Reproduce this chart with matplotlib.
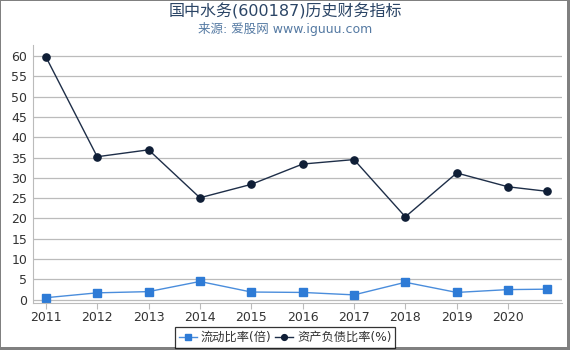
import numpy as np
import matplotlib
matplotlib.use("Agg")
import matplotlib.pyplot as plt
from matplotlib.patches import Rectangle

plt.rcParams['font.family'] = ['DejaVu Sans', 'Noto Sans CJK SC']

years = [2011, 2012, 2013, 2014, 2015, 2016, 2017, 2018, 2019, 2020, 2020.75]
tick_years = [2011, 2012, 2013, 2014, 2015, 2016, 2017, 2018, 2019, 2020]
current_ratio = [0.5, 1.7, 2.0, 4.5, 1.9, 1.8, 1.2, 4.3, 1.8, 2.5, 2.6]
debt_ratio = [59.8, 35.2, 36.9, 25.1, 28.4, 33.4, 34.5, 20.4, 31.2, 27.8, 26.7]

fig = plt.figure(figsize=(5.7, 3.5), dpi=100)
ax = fig.add_axes([33 / 570, 1 - 303 / 350, (562 - 33) / 570, (303 - 45) / 350])

ax.plot(years, current_ratio, "-s", color="#4a8ddc", mfc="#2e7bd6", mec="#2e7bd6",
        lw=1.0, ms=5.2, label="流动比率(倍)")
ax.plot(years, debt_ratio, "-o", color="#1e2e48", mfc="#0f1e36", mec="#0f1e36",
        lw=1.0, ms=5.2, label="资产负债比率(%)")

ax.set_xlim(2010.75, 2021.05)
ax.set_ylim(-0.8, 62.7)
ax.set_yticks(np.arange(0, 61, 5))
ax.set_xticks(tick_years)
ax.set_xticklabels([str(y) for y in tick_years])
ax.grid(axis="y", color="#bbbbbb", lw=0.9)
ax.set_axisbelow(True)
for s in ["top", "right"]:
    ax.spines[s].set_visible(False)
ax.spines["left"].set_color("#bbbbbb")
ax.spines["bottom"].set_color("#bbbbbb")
ax.tick_params(axis="x", colors="#333333", labelsize=9, length=4, color="#bbbbbb", pad=2)
ax.tick_params(axis="y", colors="#333333", labelsize=9, length=0, pad=4)
ax.tick_params(axis="both", labelcolor="#333333")

fig.text(0.5, 0.966, "国中水务(600187)历史财务指标", ha="center", va="center",
         fontsize=11.5, color="#2b4566")
fig.text(0.5, 0.918, "来源: 爱股网 www.iguuu.com", ha="center", va="center",
         fontsize=9, color="#557aa3")

leg = fig.legend(loc="center", bbox_to_anchor=(285 / 570, 1 - 337.5 / 350), ncol=2,
                 fontsize=8.8, frameon=True, fancybox=False, handlelength=1.5,
                 handletextpad=0.3, columnspacing=0.3, borderpad=0.3,
                 markerscale=0.8)
leg.get_frame().set_edgecolor("black")
leg.get_frame().set_linewidth(0.9)
for t in leg.get_texts():
    t.set_color("#333333")

# frame around the picture: thin on top/left, thicker on right/bottom
W, H = 570, 350
for (x, y, w, h) in [(0, H - 1, W, 1), (0, 0, 1, H), (W - 3, 0, 3, H), (0, 0, W, 3)]:
    fig.patches.append(Rectangle((x / W, y / H), w / W, h / H, transform=fig.transFigure,
                                 facecolor="#808080", edgecolor="none"))

fig.savefig("out.png", dpi=100)
